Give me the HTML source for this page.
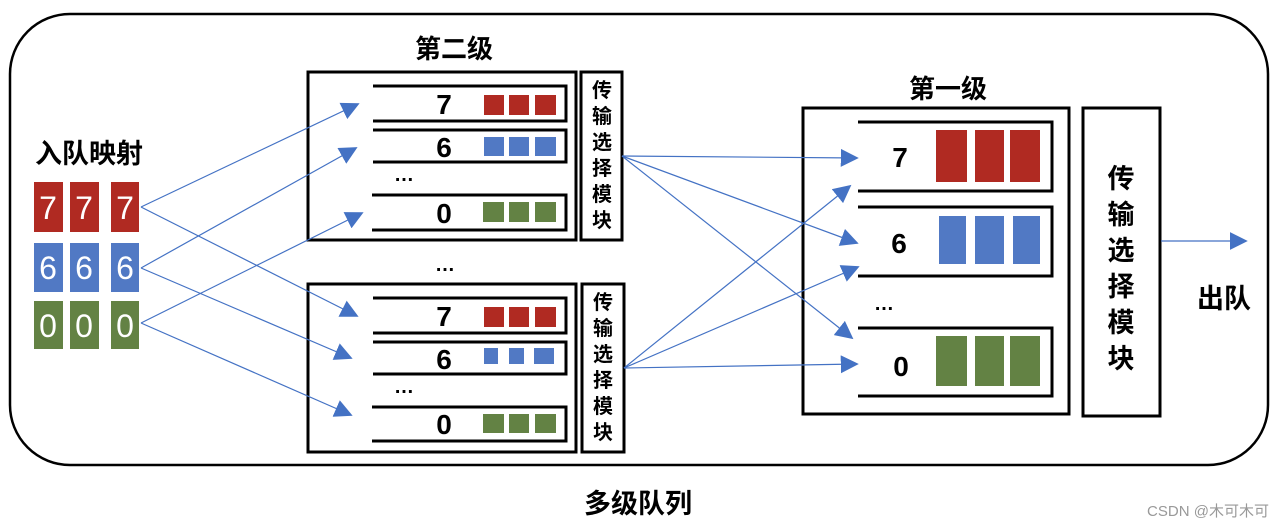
<!DOCTYPE html>
<html><head><meta charset="utf-8"><style>
html,body{margin:0;padding:0;background:#fff;}
svg{display:block;}
text{font-family:"Liberation Sans","Noto Sans CJK SC",sans-serif;font-weight:bold;}
</style></head><body>
<svg width="1284" height="528" viewBox="0 0 1284 528" xmlns="http://www.w3.org/2000/svg">
<defs>
<marker id="a" viewBox="0 0 10 10" refX="9" refY="5" markerWidth="18" markerHeight="18" markerUnits="userSpaceOnUse" orient="auto">
<path d="M0,0 L10,5 L0,10 z" fill="#4472C4"/></marker>
</defs>
<rect x="10" y="14" width="1258" height="451" rx="60" fill="none" stroke="#000" stroke-width="2.5"/>

<text x="89" y="163" font-size="27" text-anchor="middle">入队映射</text>
<g font-size="32" fill="#fff" text-anchor="middle">
<rect x="34" y="182" width="29" height="50" fill="#B02A22"/><rect x="70" y="182" width="29" height="50" fill="#B02A22"/><rect x="111" y="182" width="28" height="50" fill="#B02A22"/>
<rect x="34" y="243" width="29" height="49" fill="#5179C4"/><rect x="70" y="243" width="29" height="49" fill="#5179C4"/><rect x="111" y="243" width="28" height="49" fill="#5179C4"/>
<rect x="34" y="301" width="29" height="48" fill="#638244"/><rect x="70" y="301" width="29" height="48" fill="#638244"/><rect x="111" y="301" width="28" height="48" fill="#638244"/>
<text x="48" y="219" style="font-weight:normal">7</text><text x="84" y="219" style="font-weight:normal">7</text><text x="125" y="219" style="font-weight:normal">7</text>
<text x="48" y="279" style="font-weight:normal">6</text><text x="84" y="279" style="font-weight:normal">6</text><text x="125" y="279" style="font-weight:normal">6</text>
<text x="48" y="337" style="font-weight:normal">0</text><text x="84" y="337" style="font-weight:normal">0</text><text x="125" y="337" style="font-weight:normal">0</text>
</g>

<!-- second level -->
<text x="454" y="58" font-size="26" text-anchor="middle">第二级</text>
<g fill="none" stroke="#000" stroke-width="3">
<rect x="308" y="72" width="268" height="168"/>
<rect x="581" y="72" width="41" height="168"/>
<path d="M373,86 H566 V121 H373"/><path d="M373,130 H566 V162 H373"/><path d="M372,195 H566 V230 H372"/>
<rect x="308" y="284" width="268" height="168"/>
<rect x="582" y="284" width="42" height="168"/>
<path d="M373,298 H566 V333 H373"/><path d="M373,342 H566 V374 H373"/><path d="M372,407 H566 V441 H372"/>
</g>
<g font-size="28" text-anchor="middle">
<text x="444" y="114">7</text><text x="444" y="157">6</text><text x="444" y="223">0</text>
<text x="444" y="326">7</text><text x="444" y="369">6</text><text x="444" y="434">0</text>
</g>
<g font-size="20" text-anchor="middle">
<text x="404" y="181">…</text><text x="404" y="393">…</text><text x="445" y="271">…</text><text x="884" y="310">…</text>
</g>
<g fill="#B02A22"><rect x="484" y="95" width="20" height="20"/><rect x="509" y="95" width="20" height="20"/><rect x="535" y="95" width="21" height="20"/>
<rect x="484" y="307" width="20" height="20"/><rect x="509" y="307" width="20" height="20"/><rect x="535" y="307" width="21" height="20"/></g>
<g fill="#5179C4"><rect x="484" y="137" width="20" height="19"/><rect x="509" y="137" width="20" height="19"/><rect x="535" y="137" width="21" height="19"/>
<rect x="484" y="348" width="14" height="16"/><rect x="509" y="348" width="15" height="16"/><rect x="534" y="348" width="20" height="16"/></g>
<g fill="#638244"><rect x="483" y="202" width="21" height="20"/><rect x="509" y="202" width="20" height="20"/><rect x="535" y="202" width="21" height="20"/>
<rect x="483" y="414" width="21" height="19"/><rect x="509" y="414" width="20" height="19"/><rect x="535" y="414" width="21" height="19"/></g>
<g font-size="20" text-anchor="middle">
<text x="602" y="97">传</text><text x="602" y="123">输</text><text x="602" y="149">选</text><text x="602" y="175">择</text><text x="602" y="201">模</text><text x="602" y="227">块</text>
<text x="603" y="309">传</text><text x="603" y="335">输</text><text x="603" y="361">选</text><text x="603" y="387">择</text><text x="603" y="413">模</text><text x="603" y="439">块</text>
</g>

<!-- first level -->
<text x="948" y="98" font-size="26" text-anchor="middle">第一级</text>
<g fill="none" stroke="#000" stroke-width="3">
<rect x="803" y="108" width="266" height="306"/>
<rect x="1083" y="108" width="77" height="308"/>
<path d="M858,122 H1052 V191 H858"/><path d="M858,207 H1052 V276 H858"/><path d="M858,328 H1052 V396 H858"/>
</g>
<g font-size="28" text-anchor="middle">
<text x="900" y="167">7</text><text x="899" y="253">6</text><text x="901" y="376">0</text>
</g>
<g fill="#B02A22"><rect x="936" y="130" width="31" height="52"/><rect x="975" y="130" width="29" height="52"/><rect x="1010" y="130" width="30" height="52"/></g>
<g fill="#5179C4"><rect x="939" y="216" width="27" height="48"/><rect x="975" y="216" width="29" height="48"/><rect x="1013" y="216" width="27" height="48"/></g>
<g fill="#638244"><rect x="936" y="336" width="31" height="50"/><rect x="975" y="336" width="29" height="50"/><rect x="1010" y="336" width="30" height="50"/></g>
<g font-size="27" text-anchor="middle">
<text x="1121" y="188">传</text><text x="1121" y="224">输</text><text x="1121" y="260">选</text><text x="1121" y="296">择</text><text x="1121" y="332">模</text><text x="1121" y="368">块</text>
</g>
<text x="1224" y="308" font-size="27" text-anchor="middle">出队</text>
<text x="638" y="513" font-size="27" text-anchor="middle">多级队列</text>
<text x="1208" y="516" font-size="15" fill="#999" text-anchor="middle" style="font-weight:normal">CSDN @木可木可</text>

<!-- connectors -->
<g stroke="#4472C4" stroke-width="1.2" fill="none" marker-end="url(#a)">
<line x1="141" y1="207" x2="358" y2="104"/>
<line x1="141" y1="207" x2="357" y2="316"/>
<line x1="141" y1="268" x2="356" y2="148"/>
<line x1="141" y1="268" x2="351" y2="358"/>
<line x1="141" y1="323" x2="362" y2="213"/>
<line x1="141" y1="323" x2="351" y2="415"/>
<line x1="622" y1="156" x2="857" y2="158"/>
<line x1="622" y1="156" x2="857" y2="243"/>
<line x1="622" y1="156" x2="852" y2="338"/>
<line x1="624" y1="368" x2="850" y2="186"/>
<line x1="624" y1="368" x2="858" y2="267"/>
<line x1="624" y1="368" x2="857" y2="364"/>
<line x1="1161" y1="241" x2="1246" y2="241"/>
</g>
</svg>
</body></html>
